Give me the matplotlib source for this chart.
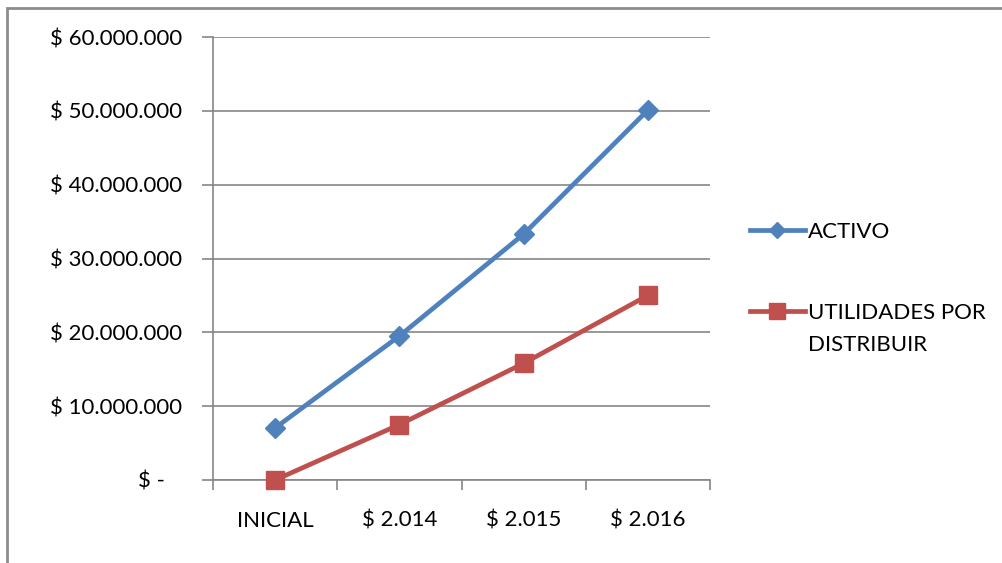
import matplotlib.pyplot as plt
from matplotlib.lines import Line2D
from matplotlib.patches import Rectangle
from matplotlib.ticker import FuncFormatter

# datos
categorias = ['INICIAL', '$ 2.014', '$ 2.015', '$ 2.016']
activo = [7050000, 19500000, 33300000, 50100000]
utilidades = [0, 7500000, 15800000, 25000000]
series = ['ACTIVO', 'UTILIDADES POR\nDISTRIBUIR']

azul = '#4F81BD'
rojo = '#C0504D'
gris = '#868686'

plt.rcParams['font.family'] = ['Lato', 'DejaVu Sans']
plt.rcParams['font.size'] = 16

fig = plt.figure(figsize=(10.03, 5.63), dpi=100)
ax = fig.add_axes([213 / 1003, 1 - 480 / 563, 497 / 1003, 443 / 563])

x = list(range(len(categorias)))
ax.plot(x, activo, color=azul, lw=3.4, marker='D', ms=10, zorder=3, clip_on=False)
ax.plot(x, utilidades, color=rojo, lw=3.4, marker='s', ms=13, zorder=3, clip_on=False)

ax.set_xlim(-0.5, len(categorias) - 0.5)
ax.set_ylim(0, 60000000)
ax.set_yticks(range(0, 60000001, 10000000))


def pesos(v, pos):
    if v == 0:
        return '$ -   '
    return '$ ' + f'{int(v):,}'.replace(',', '.')


ax.yaxis.set_major_formatter(FuncFormatter(pesos))
ax.grid(axis='y', color=gris, lw=1.2)
ax.set_axisbelow(True)

# ticks del eje x entre categorias, etiquetas en el centro
ax.set_xticks([i - 0.5 for i in range(len(categorias) + 1)])
ax.set_xticklabels([])
ax.set_xticks(x, minor=True)
ax.set_xticklabels(categorias, minor=True)
ax.tick_params(axis='x', which='major', direction='out', length=7, color=gris, width=1.2)
ax.tick_params(axis='x', which='minor', length=0, pad=22)
ax.tick_params(axis='y', direction='out', length=8, color=gris, width=1.2, pad=14)

for s in ['top', 'right']:
    ax.spines[s].set_visible(False)
for s in ['left', 'bottom']:
    ax.spines[s].set_color(gris)
    ax.spines[s].set_linewidth(1.2)

# leyenda manual (el marcador va con la primera linea del texto)
leyenda_y = [230, 311]
for nombre, col, mk, ms, yy in zip(series, [azul, rojo], ['D', 's'], [8, 11], leyenda_y):
    yf = 1 - yy / 563
    fig.add_artist(Line2D([750 / 1003, 805 / 1003], [yf, yf], color=col, lw=3.4,
                          transform=fig.transFigure))
    fig.add_artist(Line2D([777.5 / 1003], [yf], color=col, marker=mk, ms=ms,
                          transform=fig.transFigure))
    for k, linea in enumerate(nombre.split('\n')):
        base = yy + 8 + 32 * k
        fig.text(808 / 1003, 1 - base / 563, linea, ha='left', va='baseline')

# borde del area del grafico
fig.add_artist(Rectangle((7 / 1003, -0.1), 1.2, 1 - 8 / 563 + 0.1, fill=False,
                         edgecolor='#8c8c8c', lw=2, transform=fig.transFigure))

fig.savefig('out.png', dpi=100)
